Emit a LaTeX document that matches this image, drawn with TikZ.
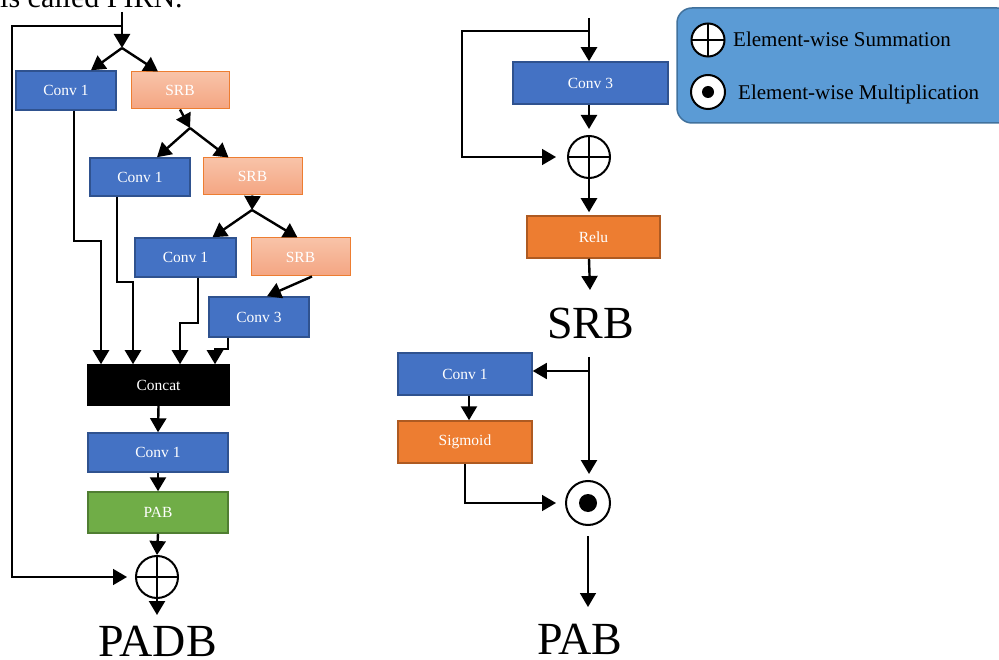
\documentclass[tikz,border=0pt]{standalone}
\usepackage{fontspec}
\setmainfont{Liberation Serif}
\usetikzlibrary{arrows.meta,calc}
\definecolor{cblue}{HTML}{4472C4}
\definecolor{cbluedk}{HTML}{2F528F}
\definecolor{corange}{HTML}{ED7D31}
\definecolor{corangedk}{HTML}{AE5A21}
\definecolor{cgreen}{HTML}{70AD47}
\definecolor{cgreendk}{HTML}{507E32}
\definecolor{srbtop}{HTML}{F8C3A8}
\definecolor{srbbot}{HTML}{F4A582}
\definecolor{legfill}{HTML}{5B9BD5}
\definecolor{legdk}{HTML}{41719C}
\tikzset{
  box/.style={rectangle, line width=1.5pt, text=white, font=\fontsize{15.5}{18}\selectfont, inner sep=0pt},
  bluebox/.style={box, fill=cblue, draw=cbluedk},
  srbbox/.style={box, top color=srbtop, bottom color=srbbot, draw=corange, line width=1pt},
  orbox/.style={box, fill=corange, draw=corangedk},
  grbox/.style={box, fill=cgreen, draw=cgreendk},
  catbox/.style={box, fill=black, draw=black},
  arr/.style={line width=2.4pt, -{Triangle[width=16pt,length=14pt]}},
  thinarr/.style={line width=1.6pt, -{Triangle[width=16pt,length=14pt]}},
  plusnode/.style={circle, draw, line width=2pt, minimum size=#1, inner sep=0pt,
    path picture={\draw[line width=2pt] (path picture bounding box.north) -- (path picture bounding box.south)
      (path picture bounding box.west) -- (path picture bounding box.east);}},
  dotnode/.style={circle, draw, line width=2pt, minimum size=#1, inner sep=0pt},
  biglabel/.style={font=\fontsize{46}{50}\selectfont, anchor=base, inner sep=0pt, text depth=0pt},
  legtext/.style={font=\fontsize{21}{24}\selectfont, anchor=base west, inner sep=0pt},
}
\begin{document}
\begin{tikzpicture}[x=1pt,y=-1pt]
\useasboundingbox (0,0) rectangle (999,660);
% cropped caption remnant
\node[font=\fontsize{30}{34}\selectfont, anchor=base west, inner sep=0pt] (cap) at (0,8) {is called PIRN.};

% ---------------- PADB ----------------
\node[bluebox, minimum width=100pt, minimum height=39pt] (c1a) at (66,90.5) {Conv 1};
\node[srbbox, minimum width=98pt, minimum height=37pt] (srba) at (180,90.5) {SRB};
\node[bluebox, minimum width=100pt, minimum height=38pt] (c1b) at (140,177) {Conv 1};
\node[srbbox, minimum width=99pt, minimum height=37pt] (srbb) at (252.5,176.5) {SRB};
\node[bluebox, minimum width=101pt, minimum height=39pt] (c1c) at (185.5,257.5) {Conv 1};
\node[srbbox, minimum width=99pt, minimum height=38pt] (srbc) at (300.5,257) {SRB};
\node[bluebox, minimum width=100pt, minimum height=40pt] (c3a) at (259,317) {Conv 3};
\node[catbox, minimum width=141pt, minimum height=40pt] (concat) at (158.5,385) {Concat};
\node[bluebox, minimum width=140pt, minimum height=39pt] (c1d) at (158,452.5) {Conv 1};
\node[grbox, minimum width=140pt, minimum height=41pt] (pab) at (158,512.5) {PAB};
\node[plusnode=42pt] (plusL) at (157,577) {};
\node[biglabel] (padb) at (157.5,656) {PADB};

\coordinate (inL) at (122,12);
\coordinate (splitA) at (122,48);
\coordinate (skipL) at (122,26);
\coordinate (splitB) at (190,128);
\coordinate (splitC) at (252,210);
\coordinate (outL) at (157,615);

\draw[arr] (inL) -- (splitA);
\draw[arr] (splitA) -- ([xshift=25pt]c1a.north);
\draw[arr] (splitA) -- ([xshift=-22pt]srba.north);
\draw[arr] (srba.south) -- (splitB);
\draw[arr] (splitB) -- ([xshift=17pt]c1b.north);
\draw[arr] (splitB) -- ([xshift=-24pt]srbb.north);
\draw[arr] (srbb.south) -- (splitC);
\draw[arr] (splitC) -- ([xshift=27pt]c1c.north);
\draw[arr] (splitC) -- ([xshift=-3pt]srbc.north);
\draw[arr] ([xshift=11.5pt]srbc.south) -- ([xshift=8pt]c3a.north);

\draw[arr] ([xshift=8pt]c1a.south) -- ++(0,130) -| ([xshift=-57.5pt]concat.north);
\draw[arr] ([xshift=-23pt]c1b.south) -- ++(0,85) -| ([xshift=-25.5pt]concat.north);
\draw[arr] ([xshift=12.5pt]c1c.south) -- ++(0,45) -| ([xshift=21.5pt]concat.north);
\draw[arr] ([xshift=-31pt]c3a.south) -- ++(0,11) -| ([xshift=56.5pt]concat.north);

\draw[arr] (concat.south) -- (c1d.north);
\draw[arr] (c1d.south) -- (pab.north);
\draw[arr] (pab.south) -- (plusL.north);
\draw[arr] (plusL.south) -- (outL);
\draw[thinarr] (skipL) -- ++(-110,0) |- ([xshift=-8pt]plusL.west);

% ---------------- SRB ----------------
\node[bluebox, minimum width=155pt, minimum height=42pt] (c3b) at (590.5,83) {Conv 3};
\node[plusnode=42pt] (plusR) at (589,157) {};
\node[orbox, minimum width=133pt, minimum height=42pt] (relu) at (593.5,237) {Relu};
\node[biglabel] (srblab) at (590.5,338) {SRB};

\coordinate (inR) at (589,18);
\coordinate (skipR) at (589,31);
\coordinate (outR) at (590,290);

\draw[arr] (inR) -- (inR |- c3b.north);
\draw[thinarr] (skipR) -- ++(-127,0) |- ([xshift=-11pt]plusR.west);
\draw[arr, shorten >=6pt] (c3b.south -| plusR) -- (plusR.north);
\draw[arr, shorten >=3pt] (plusR.south) -- (plusR |- relu.north);
\draw[arr] (plusR |- relu.south) -- (outR);

% ---------------- PAB ----------------
\node[bluebox, minimum width=134pt, minimum height=42pt] (c1e) at (465,374) {Conv 1};
\node[orbox, minimum width=134pt, minimum height=42pt] (sig) at (465,442) {Sigmoid};
\node[dotnode=44pt] (dot) at (588,503) {};
\fill (dot.center) circle (9pt);
\node[biglabel] (pablab) at (580,654) {PAB};

\coordinate (inP) at (589,357);
\coordinate (brP) at (589,371);
\coordinate (outP) at (588,607);

\draw[arr, shorten >=6pt] (inP) -- (inP |- dot.north);
\draw[thinarr] (brP) -- (c1e.east |- brP);
\draw[arr] ([xshift=4pt]c1e.south) -- ([xshift=4pt]sig.north);
\draw[thinarr] (sig.south) |- ([xshift=-9pt]dot.west);
\draw[thinarr, shorten <=10pt] (dot.south) -- (outP);

% ---------------- Legend ----------------
\node[rectangle, rounded corners=15pt, fill=legfill, draw=legdk, line width=1.5pt,
      minimum width=335pt, minimum height=115pt, inner sep=0pt] (legend) at (844.5,65.5) {};
\node[plusnode=33pt, fill=white] (plusI) at (708,40) {};
\node[dotnode=34pt, fill=white] (dotI) at (708,92) {};
\fill (dotI.center) circle (6pt);
\node[legtext] (sumtxt) at (733,47) {Element-wise Summation};
\node[legtext] (multxt) at (738,100) {Element-wise Multiplication};
\end{tikzpicture}
\end{document}
